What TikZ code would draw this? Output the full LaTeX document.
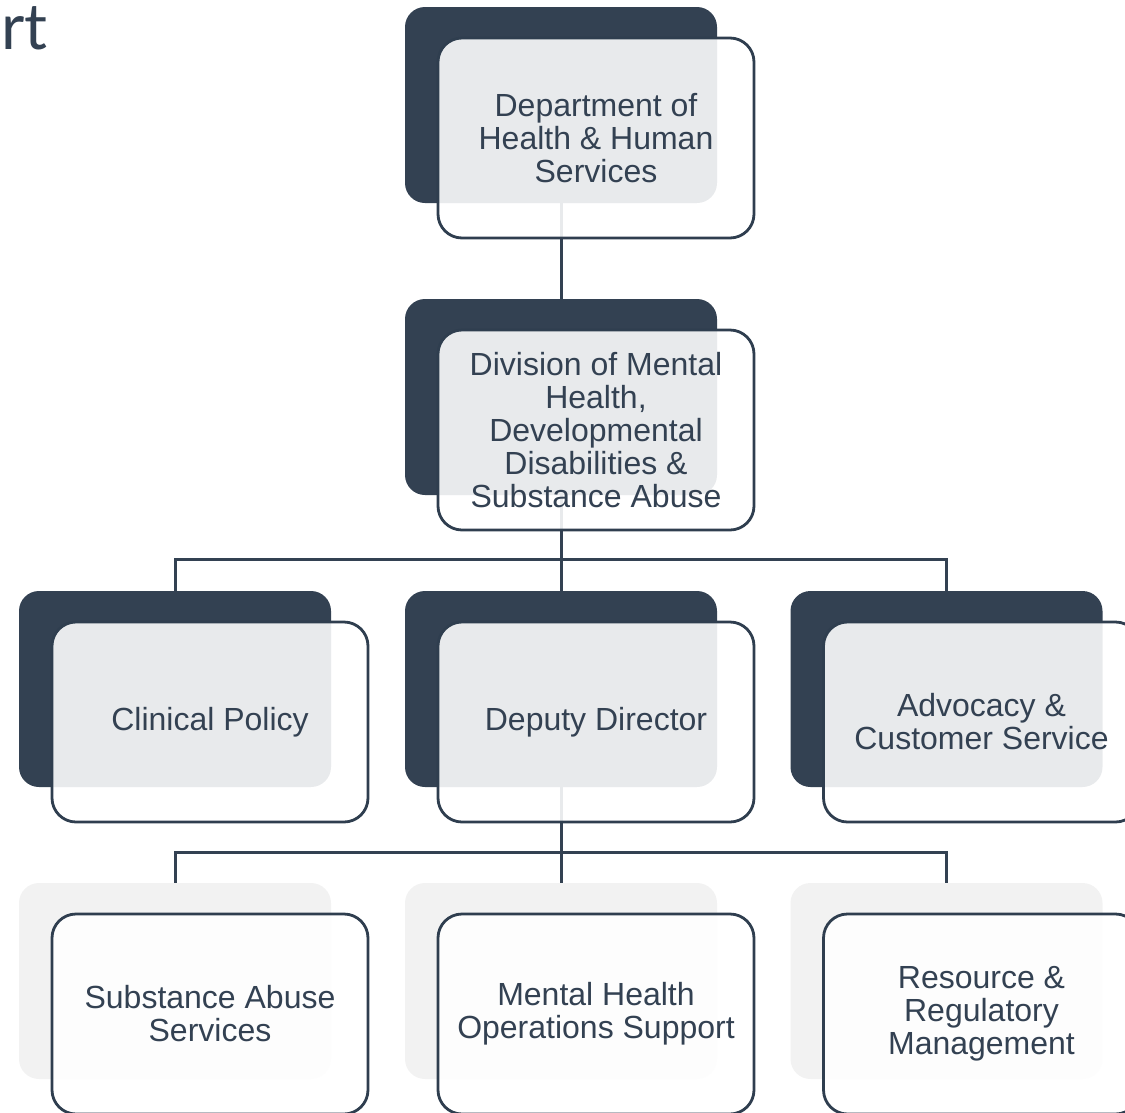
\documentclass[tikz,border=0pt]{standalone}
\usepackage{fontspec}
\setmainfont{Liberation Sans}
\newfontfamily\titlefont{Lato}
\definecolor{navy}{HTML}{334152}
\definecolor{edge}{HTML}{2F3E4F}
\definecolor{pale}{HTML}{F2F2F2}
\begin{document}
\begin{tikzpicture}[x=1pt,y=-1pt,
  backbox/.style={rectangle, rounded corners=20pt, fill=navy,
    minimum width=312pt, minimum height=196pt, inner sep=0pt},
  lightback/.style={backbox, fill=pale},
  card/.style={rectangle, rounded corners=24pt, draw=edge, line width=2.8pt,
    fill=white, fill opacity=0.89, text opacity=1,
    minimum width=316pt, minimum height=200pt, inner sep=0pt,
    text=navy, align=center, font=\fontsize{32}{33}\selectfont},
  link/.style={draw=navy, line width=3pt}
]
\clip (0,0) rectangle (1125,1112);

% title fragment
\node[anchor=base east, text=navy, inner sep=0pt,
  font=\titlefont\fontsize{64}{64}\selectfont] (title) at (48,49) {rt};

% back panels
\node[backbox] (dhhs-b) at (561,105) {};
\node[backbox] (dmh-b)  at (561,397) {};
\node[backbox] (cp-b)   at (175,689) {};
\node[backbox] (dd-b)   at (561,689) {};
\node[backbox] (adv-b)  at (946.5,689) {};
\node[lightback] (sas-b) at (175,981) {};
\node[lightback] (mho-b) at (561,981) {};
\node[lightback] (rrm-b) at (946.5,981) {};

% connectors
\coordinate (j1) at (561,559);
\coordinate (j2) at (561,852);
\draw[link] (dhhs-b.south) -- (dmh-b.north);
\draw[link] (dmh-b.south) -- (j1);
\draw[link] (cp-b.north) |- (j1) -| (adv-b.north);
\draw[link] (j1) -- (dd-b.north);
\draw[link] (dd-b.south) -- (j2);
\draw[link] (sas-b.north) |- (j2) -| (rrm-b.north);
\draw[link] (j2) -- (mho-b.north);

% front cards
\node[card] (dhhs) at (596,138) {Department of\\Health \& Human\\Services};
\node[card] (dmh)  at (596,430) {Division of Mental\\Health,\\Developmental\\Disabilities \&\\Substance Abuse};
\node[card] (cp)   at (210,722) {Clinical Policy};
\node[card] (dd)   at (596,722) {Deputy Director};
\node[card] (adv)  at (981.5,722) {Advocacy \&\\Customer Service};
\node[card] (sas)  at (210,1014) {Substance Abuse\\Services};
\node[card] (mho)  at (596,1014) {Mental Health\\Operations Support};
\node[card] (rrm)  at (981.5,1014) {Resource \&\\Regulatory\\Management};
\end{tikzpicture}
\end{document}
